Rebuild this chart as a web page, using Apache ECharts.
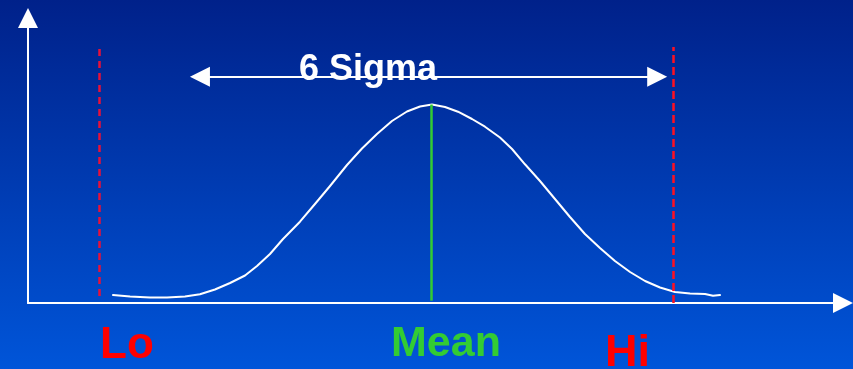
<!DOCTYPE html>
<html>
<head>
<meta charset="utf-8">
<script src="https://cdn.jsdelivr.net/npm/echarts@6/dist/echarts.min.js"></script>
<style>
  html, body { margin: 0; padding: 0; }
  #chart { width: 853px; height: 369px; }
</style>
</head>
<body>
<div id="chart"></div>
<script>
// 曲线数据（手绘正态分布曲线，读自原图）
const curveX = [10.43, 12.52, 14.97, 17.06, 19.26, 21.10, 22.94, 24.79, 26.63, 28.10, 29.69, 31.29,
  33.37, 35.21, 37.06, 39.14, 40.98, 42.82, 44.66, 46.50, 48.10, 49.57,
  51.17, 52.76, 54.48, 56.07, 57.91, 59.39, 60.98, 62.82, 64.66, 66.50, 68.34, 70.18, 72.02,
  73.87, 75.71, 77.55, 79.39, 81.23, 83.07, 84.05, 84.91]
const curveY = [2.81, 2.28, 1.93, 1.93, 2.28, 3.05, 4.74, 7.02, 9.65, 12.98, 17.19, 22.46,
  28.53, 34.74, 41.05, 48.42, 54.21, 59.30, 63.86, 67.19, 68.95, 69.65,
  68.77, 67.12, 64.56, 61.86, 58.07, 54.04, 48.67, 42.81, 36.49, 30.18, 24.21, 19.30, 14.74,
  10.88, 7.72, 5.44, 3.86, 3.33, 3.16, 2.53, 2.81]

// 规格界限与均值
const loX = 8.7
const hiX = 79.2
const meanX = 49.5
const peakY = 69.65
const limitTop = 89.8

// 6 Sigma 箭头
const sigmaFrom = 21.1
const sigmaTo = 77.2
const sigmaY = 79.4

const labels = ['Lo', 'Mean', 'Hi', '6 Sigma']

const chart = echarts.init(document.getElementById('chart'))

const axisLine = {
  lineStyle: { color: '#ffffff', width: 2 },
  symbol: ['none', 'triangle'],
  symbolSize: [20, 20]
}

const option = {
  animation: false,
  backgroundColor: {
    type: 'linear', x: 0, y: 0, x2: 0, y2: 1,
    colorStops: [
      { offset: 0, color: '#00218a' },
      { offset: 1, color: '#0055d9' }
    ]
  },
  grid: { left: 28, right: 10, top: 18, bottom: 66 },
  xAxis: {
    type: 'value', min: 0, max: 100,
    axisLine: axisLine,
    axisTick: { show: false },
    axisLabel: { show: false },
    splitLine: { show: false }
  },
  yAxis: {
    type: 'value', min: 0, max: 100,
    axisLine: axisLine,
    axisTick: { show: false },
    axisLabel: { show: false },
    splitLine: { show: false }
  },
  series: [
    {
      type: 'line',
      data: curveX.map((x, i) => [x, curveY[i]]),
      smooth: false,
      symbol: 'none',
      lineStyle: { color: '#ffffff', width: 2, cap: 'round', join: 'round' },
      z: 3
    },
    {
      type: 'line',
      data: [],
      markLine: {
        silent: true,
        symbol: 'none',
        label: { show: false },
        data: [
          [{ coord: [loX, 2.5], lineStyle: { color: '#e8103a', width: 2.5, type: [7, 5] } }, { coord: [loX, limitTop] }],
          [{ coord: [hiX, 0], lineStyle: { color: '#ff1020', width: 2.5, type: [8, 4] } }, { coord: [hiX, limitTop] }],
          [{ coord: [meanX, 0.8], lineStyle: { color: '#33cc33', width: 2.5, type: 'solid' } }, { coord: [meanX, peakY] }]
        ]
      },
      z: 2
    },
    {
      type: 'line',
      data: [],
      markLine: {
        silent: true,
        symbol: ['triangle', 'triangle'],
        symbolSize: [20, 20],
        label: { show: false },
        lineStyle: { color: '#ffffff', width: 2, type: 'solid' },
        data: [
          [{ coord: [sigmaFrom, sigmaY] }, { coord: [sigmaTo, sigmaY] }]
        ]
      },
      z: 4
    }
  ],
  graphic: [
    {
      type: 'text', x: 299, y: 70, z: 10,
      style: { text: labels[3], fill: '#ffffff', font: 'bold 36px "Liberation Sans", Arial, sans-serif', verticalAlign: 'middle' }
    },
    {
      type: 'text', x: 100, y: 346, z: 10,
      style: { text: labels[0], fill: '#ff0000', font: 'bold 44px "Liberation Sans", Arial, sans-serif', verticalAlign: 'middle' }
    },
    {
      type: 'text', x: 391, y: 344, z: 10,
      style: { text: labels[1], fill: '#33cc33', font: 'bold 43px "Liberation Sans", Arial, sans-serif', verticalAlign: 'middle' }
    },
    {
      type: 'text', x: 605, y: 354, z: 10,
      style: { text: labels[2], fill: '#ff0000', font: 'bold 45px "Liberation Sans", Arial, sans-serif', verticalAlign: 'middle' }
    }
  ]
}

chart.setOption(option)
</script>
</body>
</html>
